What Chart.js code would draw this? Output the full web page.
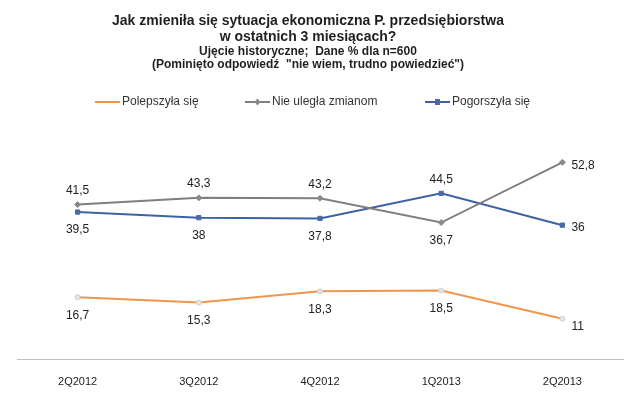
<!DOCTYPE html>
<html>
<head>
<meta charset="utf-8">
<script src="https://cdn.jsdelivr.net/npm/chart.js@4"></script>
<style>
  html, body { margin: 0; padding: 0; background: #fff; }
</style>
</head>
<body>
<canvas id="chart" width="640" height="400"></canvas>
<script>
// Dane
const kwartaly = ['2Q2012', '3Q2012', '4Q2012', '1Q2013', '2Q2013'];
const polepszyla = [16.7, 15.3, 18.3, 18.5, 11];
const nieUlegla = [41.5, 43.3, 43.2, 36.7, 52.8];
const pogorszyla = [39.5, 38, 37.8, 44.5, 36];

// Położenie etykiet wartości
const pozycjePolepszyla = ['down', 'down', 'down', 'down', 'rightdown'];
const pozycjeNieUlegla = ['up', 'up', 'up', 'down', 'right'];
const pozycjePogorszyla = ['down', 'down', 'down', 'up', 'right'];

const FONT = '"Liberation Sans", Arial, sans-serif';

// Etykiety wartości przy punktach
const etykietyPlugin = {
  id: 'etykiety',
  afterDatasetsDraw(chart) {
    const ctx = chart.ctx;
    ctx.save();
    ctx.font = '12px ' + FONT;
    ctx.fillStyle = '#222';
    ctx.textBaseline = 'middle';
    chart.data.datasets.forEach((ds, i) => {
      const meta = chart.getDatasetMeta(i);
      meta.data.forEach((pt, j) => {
        const txt = String(ds.data[j]).replace('.', ',');
        const poz = ds.pozycje[j];
        let x = pt.x, y = pt.y;
        ctx.textAlign = 'center';
        if (poz === 'up') y -= 14;
        else if (poz === 'down') y += 18;
        else if (poz === 'right') { ctx.textAlign = 'left'; x += 9; y += 3; }
        else if (poz === 'rightdown') { ctx.textAlign = 'left'; x += 9; y += 8; }
        ctx.fillText(txt, x, y);
      });
    });
    ctx.restore();
  }
};

// Własna legenda (linia ze znacznikiem)
const legendaPlugin = {
  id: 'legenda',
  afterDraw(chart) {
    const ctx = chart.ctx;
    const startX = [95, 245, 425];
    const y = 102;
    ctx.save();
    ctx.font = '12px ' + FONT;
    ctx.textBaseline = 'middle';
    ctx.textAlign = 'left';
    chart.data.datasets.forEach((ds, i) => {
      const x = startX[i];
      ctx.strokeStyle = ds.borderColor;
      ctx.lineWidth = 2;
      ctx.beginPath();
      ctx.moveTo(x, y);
      ctx.lineTo(x + 25, y);
      ctx.stroke();
      const cx = x + 12.5;
      if (ds.pointStyle === 'rectRot') {
        ctx.fillStyle = ds.pointBackgroundColor;
        ctx.beginPath();
        ctx.moveTo(cx, y - 3.5); ctx.lineTo(cx + 3, y); ctx.lineTo(cx, y + 3.5); ctx.lineTo(cx - 3, y);
        ctx.closePath();
        ctx.fill();
      } else if (ds.pointStyle === 'rect') {
        ctx.fillStyle = ds.pointBackgroundColor;
        ctx.fillRect(cx - 2.5, y - 3, 5, 6);
      }
      ctx.fillStyle = '#333';
      ctx.fillText(ds.label, x + 27, y);
    });
    ctx.restore();
  }
};

const ctx = document.getElementById('chart').getContext('2d');

new Chart(ctx, {
  type: 'line',
  data: {
    labels: kwartaly,
    datasets: [
      {
        label: 'Polepszyła się',
        data: polepszyla,
        pozycje: pozycjePolepszyla,
        borderColor: '#f0964a',
        borderWidth: 2,
        pointStyle: 'circle',
        pointRadius: 2.5,
        pointBackgroundColor: '#e4e4e4',
        pointBorderColor: '#d0d0d0',
        pointBorderWidth: 1
      },
      {
        label: 'Nie uległa zmianom',
        data: nieUlegla,
        pozycje: pozycjeNieUlegla,
        borderColor: '#7f7f7f',
        borderWidth: 2,
        pointStyle: 'rectRot',
        pointRadius: 3,
        pointBackgroundColor: '#8a8a8a',
        pointBorderColor: '#8a8a8a',
        pointBorderWidth: 1
      },
      {
        label: 'Pogorszyła się',
        data: pogorszyla,
        pozycje: pozycjePogorszyla,
        borderColor: '#3d62a3',
        borderWidth: 2,
        pointStyle: 'rect',
        pointRadius: 3,
        pointBackgroundColor: '#4a6aa5',
        pointBorderColor: '#4a6aa5',
        pointBorderWidth: 1
      }
    ]
  },
  options: {
    responsive: false,
    animation: false,
    // tytuł w oryginale jest przesunięty nieco w lewo
    layout: { padding: { left: -7, right: 17, bottom: -5, top: 0 } },
    elements: { line: { tension: 0 } },
    plugins: {
      legend: { display: false },
      tooltip: { enabled: false },
      title: {
        display: true,
        text: ['Jak zmieniła się sytuacja ekonomiczna P. przedsiębiorstwa', 'w ostatnich 3 miesiącach?'],
        color: '#1f1f1f',
        font: { family: FONT, size: 14, weight: 'bold', lineHeight: 1.143 },
        padding: { top: 13, bottom: 0 }
      },
      subtitle: {
        display: true,
        text: ['Ujęcie historyczne;  Dane % dla n=600', '(Pominięto odpowiedź  "nie wiem, trudno powiedzieć")'],
        color: '#1f1f1f',
        font: { family: FONT, size: 12, weight: 'bold', lineHeight: 1.1 },
        padding: { top: 0, bottom: 64 }
      }
    },
    scales: {
      x: {
        offset: true,
        grid: { display: false, drawTicks: false },
        border: { display: true, color: '#bfbfbf', width: 1 },
        ticks: { color: '#222', padding: 16, font: { family: FONT, size: 11 } }
      },
      y: {
        display: true,
        min: 0,
        max: 60,
        grid: { display: false, drawTicks: false },
        border: { display: false },
        ticks: { display: false },
        afterFit(scale) { scale.width = 24; }
      }
    }
  },
  plugins: [etykietyPlugin, legendaPlugin]
});
</script>
</body>
</html>
